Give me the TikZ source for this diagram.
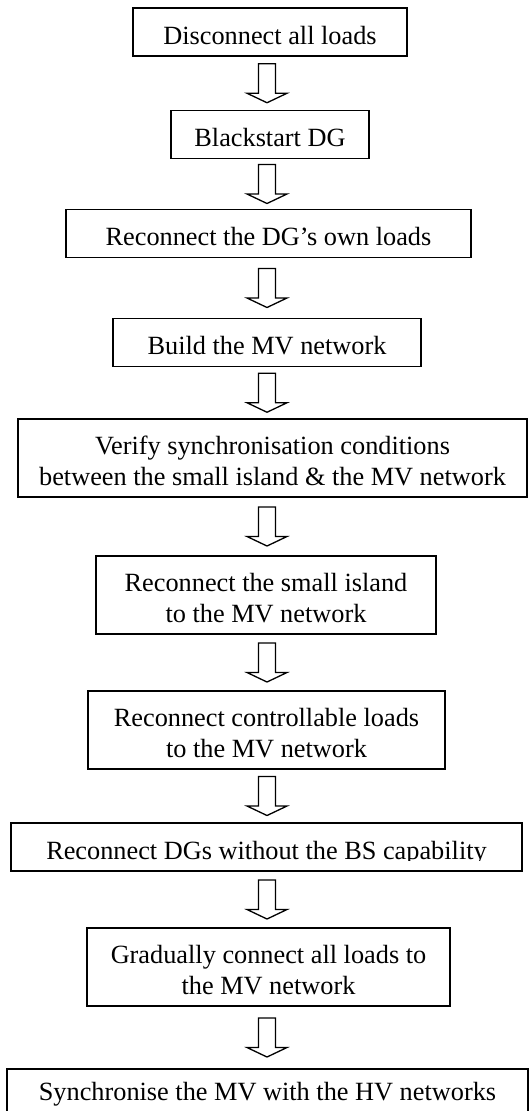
\documentclass[tikz,border=0pt]{standalone}
\usepackage{fontspec}
\setmainfont{Liberation Serif}
\usetikzlibrary{calc}

\begin{document}
\begin{tikzpicture}[
  x=1pt, y=-1pt,
  stepbox/.style={draw, line width=1.6pt, inner sep=0pt, align=center,
    text height=36pt, text depth=12pt, minimum height=48pt,
    font=\fontsize{26.3}{31}\selectfont},
  twoline/.style={text height=66pt, text depth=12pt, minimum height=78pt},
  downarrow/.pic={
    \draw [line width=1.3pt, line join=miter] (-8.5,-19.5) -- (8.5,-19.5) -- (8.5,10)
      -- (20,10) -- (0,19.5) -- (-20,10) -- (-8.5,10) -- cycle;
  }
]
\useasboundingbox (0,0) rectangle (529,1111);

\node [stepbox, minimum width=274pt] (s1) at (270,32) {Disconnect all loads};
\node [stepbox, minimum width=198pt] (s2) at (270,134.5) {Blackstart DG};
\node [stepbox, minimum width=405pt] (s3) at (268.5,233.5) {Reconnect the DG's own loads};
\node [stepbox, minimum width=308pt] (s4) at (267,342.5) {Build the MV network};
\node [stepbox, twoline, minimum width=509pt] (s5) at (272.5,458)
  {Verify synchronisation conditions\\between the small island \& the MV network};
\node [stepbox, twoline, minimum width=340pt] (s6) at (266,595)
  {Reconnect the small island\\to the MV network};
\node [stepbox, twoline, minimum width=357pt] (s7) at (266.5,730)
  {Reconnect controllable loads\\to the MV network};
\node [stepbox, minimum width=511pt] (s8) at (266.5,847) {};
\begin{scope}
  % text box is cut just under the baseline
  \clip (s8.north west) rectangle ([yshift=11pt]s8.south east);
  \node [stepbox, draw=none, minimum width=511pt] (s8text) at (s8)
    {Reconnect DGs without the BS capability};
\end{scope}
\node [stepbox, twoline, minimum width=363pt] (s9) at (268.5,967)
  {Gradually connect all loads to\\the MV network};
\node [stepbox, text height=31pt, text depth=17pt, minimum width=521pt] (s10) at (267.5,1093)
  {Synchronise the MV with the HV networks};

\coordinate (spine) at (267,0);
\foreach \a/\b in {s1/s2, s2/s3, s3/s4, s4/s5, s5/s6, s6/s7, s7/s8, s8/s9, s9/s10}
  \pic at ($(spine |- \a.south)!0.5!(spine |- \b.north)$) {downarrow};
\end{tikzpicture}
\end{document}
